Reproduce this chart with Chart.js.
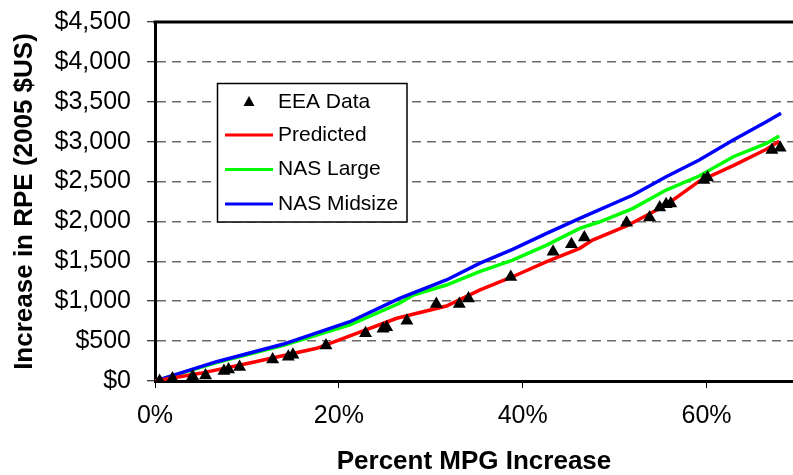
<!DOCTYPE html>
<html>
<head>
<meta charset="utf-8">
<title>Increase in RPE vs Percent MPG Increase</title>
<script src="https://cdn.jsdelivr.net/npm/chart.js@4.4.1/dist/chart.umd.min.js"></script>
<style>
  html, body { margin: 0; padding: 0; background: #fff; }
  #wrap { width: 793px; height: 475px; }
</style>
</head>
<body>
<div id="wrap"><canvas id="rpeChart" width="793" height="475"></canvas></div>
<script>
// ---- data ----
const seriesNames = ['EEA Data', 'Predicted', 'NAS Large', 'NAS Midsize'];

const eeaX = [0.5, 1.9, 4.1, 5.5, 7.5, 8.0, 9.2, 12.8, 14.5, 15.0, 18.6, 22.9, 24.8, 25.2,
  27.4, 30.6, 33.1, 34.1, 38.7, 43.3, 45.3, 46.7, 51.3, 53.8, 54.9, 55.6, 56.1, 59.7, 60.1, 67.1, 68.0];
const eeaY = [0, 30, 60, 70, 125, 145, 175, 270, 305, 330, 445, 600, 655, 675,
  755, 965, 965, 1035, 1305, 1620, 1715, 1800, 1985, 2050, 2175, 2215, 2225, 2520, 2550, 2895, 2925];

const predX = [0, 4.9, 10.3, 17.6, 26.3, 31.7, 35.3, 38.9, 42.6, 46.2, 47.6, 51.3, 55.6, 59.2, 62.9, 66.5, 67.9];
const predY = [0, 96, 225, 410, 786, 940, 1140, 1307, 1495, 1663, 1767, 1943, 2206, 2505, 2700, 2905, 3005];

const largeX = [0, 6.7, 13.9, 21.2, 26.6, 28.1, 31.7, 35.3, 38.9, 42.6, 46.2, 48.4, 52.0, 55.6, 59.2, 62.9, 66.5, 67.9];
const largeY = [0, 232, 445, 705, 974, 1078, 1203, 1370, 1516, 1704, 1913, 1996, 2164, 2393, 2569, 2811, 2978, 3070];

const midX = [0, 6.7, 13.9, 21.2, 26.6, 31.7, 35.3, 38.9, 42.6, 46.2, 52.0, 55.6, 59.2, 62.9, 66.5, 68.1];
const midY = [0, 242, 460, 743, 1036, 1266, 1475, 1650, 1851, 2039, 2331, 2561, 2770, 3021, 3250, 3355];

const yTicks = [0, 500, 1000, 1500, 2000, 2500, 3000, 3500, 4000, 4500];
const xTicks = [0, 20, 40, 60];

const pairs = (xs, ys) => xs.map((x, i) => ({ x: x, y: ys[i] }));

Chart.defaults.font.family = "'Liberation Sans', Arial, sans-serif";
Chart.defaults.color = '#000';

// boxed legend inside the plot + solid top frame line
const boxLegend = {
  id: 'boxLegend',
  beforeDatasetsDraw(chart) {
    const { ctx, chartArea } = chart;
    ctx.save();
    ctx.strokeStyle = '#000';
    ctx.lineWidth = 3;
    ctx.beginPath();
    ctx.moveTo(chartArea.left - 1.5, chartArea.top);
    ctx.lineTo(chartArea.right, chartArea.top);
    ctx.stroke();
    ctx.restore();
  },
  afterDraw(chart) {
    const ctx = chart.ctx;
    const rows = [102, 135, 169.5, 204];
    ctx.save();
    ctx.fillStyle = '#fff';
    ctx.fillRect(217, 83, 190, 139);
    ctx.strokeStyle = '#000';
    ctx.lineWidth = 1.5;
    ctx.strokeRect(217.5, 83.5, 189.5, 138.5);
    ctx.font = "21px 'Liberation Sans', Arial, sans-serif";
    ctx.textBaseline = 'middle';
    chart.data.datasets.forEach((ds, i) => {
      const y = rows[i];
      if (ds.showLine) {
        ctx.strokeStyle = ds.borderColor;
        ctx.lineWidth = 3;
        ctx.beginPath();
        ctx.moveTo(225, y);
        ctx.lineTo(273, y);
        ctx.stroke();
      } else {
        ctx.fillStyle = '#000';
        ctx.beginPath();
        ctx.moveTo(249, y - 6);
        ctx.lineTo(254.5, y + 4);
        ctx.lineTo(243.5, y + 4);
        ctx.closePath();
        ctx.fill();
      }
      ctx.fillStyle = '#000';
      ctx.fillText(ds.label, 278, y);
    });
    ctx.restore();
  }
};

new Chart(document.getElementById('rpeChart'), {
  type: 'scatter',
  data: {
    datasets: [{
      label: seriesNames[0],
      data: pairs(eeaX, eeaY),
      showLine: false,
      pointStyle: 'triangle',
      pointRadius: 7.5,
      backgroundColor: '#000',
      borderColor: '#000',
      borderWidth: 0,
      order: 0
    }, {
      label: seriesNames[1],
      data: pairs(predX, predY),
      showLine: true,
      borderColor: '#ff0000',
      borderWidth: 3.5,
      pointRadius: 0,
      tension: 0,
      order: 1
    }, {
      label: seriesNames[2],
      data: pairs(largeX, largeY),
      showLine: true,
      borderColor: '#00ff00',
      borderWidth: 3.5,
      pointRadius: 0,
      tension: 0,
      order: 3
    }, {
      label: seriesNames[3],
      data: pairs(midX, midY),
      showLine: true,
      borderColor: '#0000ff',
      borderWidth: 3.5,
      pointRadius: 0,
      tension: 0,
      order: 2
    }]
  },
  options: {
    responsive: false,
    animation: false,
    layout: { autoPadding: false, padding: { top: 22, right: 0, bottom: 0, left: 0 } },
    plugins: {
      legend: { display: false },
      tooltip: { enabled: false }
    },
    scales: {
      x: {
        type: 'linear',
        min: 0,
        max: 69.4,
        afterBuildTicks: s => { s.ticks = xTicks.map(v => ({ value: v })); },
        afterFit: s => { s.height = 94; s.paddingLeft = 0; s.paddingRight = 0; },
        ticks: {
          callback: v => v + '%',
          font: { size: 25 },
          padding: 13,
          maxRotation: 0
        },
        grid: { drawOnChartArea: false, drawTicks: true, tickLength: 7, tickColor: '#000', tickWidth: 1 },
        border: { display: true, color: '#000', width: 3 },
        title: {
          display: true,
          text: 'Percent MPG Increase',
          font: { size: 26, weight: 'bold', lineHeight: 1 },
          padding: { top: 0, bottom: 0 }
        }
      },
      y: {
        min: 0,
        max: 4500,
        afterBuildTicks: s => { s.ticks = yTicks.map(v => ({ value: v })); },
        afterFit: s => { s.width = 155; s.paddingTop = 0; s.paddingBottom = 0; },
        ticks: {
          callback: v => '$' + v.toLocaleString('en-US'),
          font: { size: 25 },
          padding: 16
        },
        grid: {
          color: '#6a6a6a',
          lineWidth: 1.5,
          drawTicks: true,
          tickLength: 8,
          tickColor: '#000',
          tickWidth: 1
        },
        border: { display: true, color: '#000', width: 3, dash: [9, 6] },
        title: {
          display: true,
          text: 'Increase in RPE (2005 $US)',
          font: { size: 26, weight: 'bold', lineHeight: 1 },
          padding: { top: 12, bottom: 0 }
        }
      }
    }
  },
  plugins: [boxLegend]
});
</script>
</body>
</html>
